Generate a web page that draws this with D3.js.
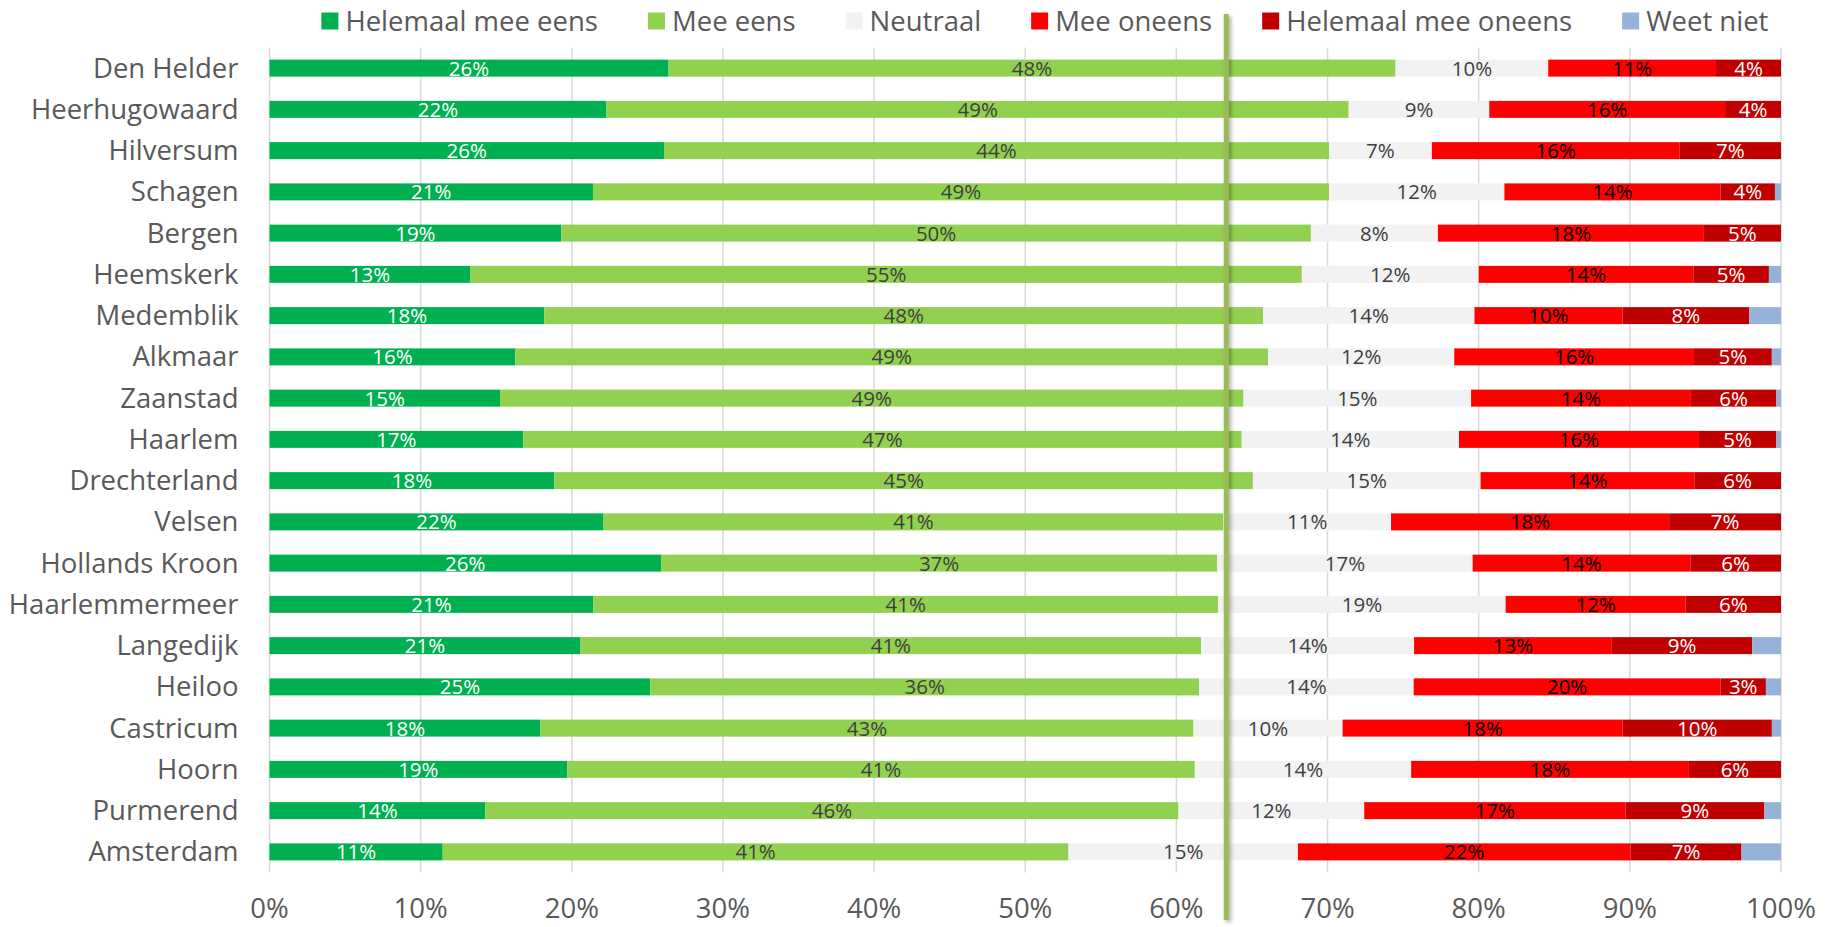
<!DOCTYPE html>
<html>
<head>
    <meta charset="utf-8">
    <title>Stelling per gemeente</title>
    <script src="https://cdn.jsdelivr.net/npm/d3@7/dist/d3.min.js"></script>
    <style>
        body { margin: 0; background: white; }
        text { font-family: "Open Sans", Lato, sans-serif; }
    </style>
</head>
<body>
    <svg width="1837" height="927"></svg>
    <script>
        // gemeenten, van boven naar beneden
        const categories = ["Den Helder", "Heerhugowaard", "Hilversum", "Schagen", "Bergen", "Heemskerk",
            "Medemblik", "Alkmaar", "Zaanstad", "Haarlem", "Drechterland", "Velsen", "Hollands Kroon",
            "Haarlemmermeer", "Langedijk", "Heiloo", "Castricum", "Hoorn", "Purmerend", "Amsterdam"];

        const series = ["Helemaal mee eens", "Mee eens", "Neutraal", "Mee oneens", "Helemaal mee oneens", "Weet niet"];
        const colors = ["#00B050", "#92D050", "#F2F2F2", "#FF0000", "#C00000", "#95B3D7"];
        const labelColors = ["#ffffff", "#404040", "#404040", "#000000", "#ffffff", null];

        const helemaalMeeEens   = [26.4, 22.3, 26.1, 21.4, 19.3, 13.3, 18.2, 16.1, 15.1, 16.7, 18.4, 22.1, 25.9, 21.4, 20.6, 25.2, 17.8, 19.4, 14.3, 11.4];
        const meeEens           = [48.1, 49.1, 44.0, 48.7, 49.6, 55.0, 47.6, 49.3, 48.7, 47.3, 45.1, 41.0, 36.8, 41.3, 41.1, 36.3, 42.9, 40.9, 45.9, 41.2];
        const neutraal          = [10.1, 9.3, 6.8, 11.6, 8.4, 11.7, 14.0, 12.2, 14.9, 14.3, 14.7, 11.1, 16.9, 19.0, 14.1, 14.2, 9.8, 14.1, 12.3, 15.1];
        const meeOneens         = [11.1, 15.6, 16.4, 14.3, 17.6, 14.2, 9.8, 15.7, 14.4, 15.8, 13.8, 18.4, 14.4, 11.9, 13.1, 20.3, 18.4, 18.1, 17.3, 21.9];
        const helemaalMeeOneens = [4.3, 3.7, 6.7, 3.6, 5.1, 5.0, 8.4, 5.1, 5.6, 5.1, 5.6, 7.4, 6.0, 6.3, 9.3, 3.0, 9.8, 6.0, 9.2, 7.3];
        const weetNiet          = [0, 0, 0, 0.4, 0, 0.8, 2.1, 0.6, 0.3, 0.3, 0, 0, 0, 0, 1.9, 1.0, 0.6, 0, 1.1, 2.6];

        const xTicks = [0, 0.1, 0.2, 0.3, 0.4, 0.5, 0.6, 0.7, 0.8, 0.9, 1];
        const gemiddelde = 0.633; // verticale lijn

        const allValues = [helemaalMeeEens, meeEens, neutraal, meeOneens, helemaalMeeOneens, weetNiet];
        const rows = categories.map((c, i) => {
            const r = { gemeente: c };
            series.forEach((s, j) => r[s] = allValues[j][i]);
            return r;
        });

        const svg = d3.select('svg');
        const margin = { left: 269.5, right: 56, top: 47.5, bottom: 54.5 };
        const width = 1837, height = 927;
        const fontSize = 27.5;

        const x = d3.scaleLinear()
            .domain([0, 1])
            .range([margin.left, width - margin.right]);

        const y = d3.scaleBand()
            .domain(categories)
            .range([margin.top, height - margin.bottom])
            .paddingInner(0.588)
            .paddingOuter(0.294);

        const stacked = d3.stack()
            .keys(series)
            .offset(d3.stackOffsetExpand)(rows);

        // rasterlijnen
        svg.append('g')
            .selectAll('line')
            .data(xTicks)
            .join('line')
                .attr('x1', d => x(d))
                .attr('x2', d => x(d))
                .attr('y1', margin.top)
                .attr('y2', height - margin.bottom)
                .attr('stroke', '#D9D9D9')
                .attr('stroke-width', 1.5);

        // balken
        const layers = svg.append('g')
            .selectAll('g')
            .data(stacked)
            .join('g')
                .attr('fill', (d, i) => colors[i]);

        layers.selectAll('rect')
            .data(d => d)
            .join('rect')
                .attr('x', d => x(d[0]))
                .attr('width', d => x(d[1]) - x(d[0]))
                .attr('y', d => y(d.data.gemeente))
                .attr('height', y.bandwidth());

        // waarde labels
        const labelG = svg.append('g')
            .attr('font-size', 20.5)
            .attr('text-anchor', 'middle');

        stacked.forEach((layer, i) => {
            if (!labelColors[i]) return;
            labelG.append('g')
                .selectAll('text')
                .data(layer)
                .join('text')
                    .attr('x', d => x((d[0] + d[1]) / 2))
                    .attr('y', d => y(d.data.gemeente) + y.bandwidth() / 2 + 7.5)
                    .attr('fill', labelColors[i])
                    .text(d => Math.round(d.data[layer.key]) + '%');
        });

        // y-as labels
        svg.append('g')
            .attr('font-size', fontSize)
            .attr('fill', '#595959')
            .attr('text-anchor', 'end')
            .selectAll('text')
            .data(categories)
            .join('text')
                .attr('x', margin.left - 31)
                .attr('y', d => y(d) + y.bandwidth() / 2 + 9.5)
                .text(d => d);

        // x-as labels
        svg.append('g')
            .attr('font-size', fontSize)
            .attr('fill', '#595959')
            .attr('text-anchor', 'middle')
            .selectAll('text')
            .data(xTicks)
            .join('text')
                .attr('x', d => x(d))
                .attr('y', 918)
                .text(d3.format('.0%'));

        // legenda
        const legend = svg.append('g')
            .attr('font-size', fontSize)
            .attr('fill', '#595959');

        let lx = 0;
        const items = legend.selectAll('g')
            .data(series)
            .join('g');
        items.append('rect')
            .attr('width', 17)
            .attr('height', 17)
            .attr('y', -8.5)
            .attr('fill', (d, i) => colors[i]);
        items.append('text')
            .attr('x', 24)
            .attr('y', 9.5)
            .text(d => d);
        items.each(function () {
            const w = this.getBBox().width;
            d3.select(this).attr('transform', `translate(${lx},0)`);
            lx += w + 50;
        });
        const legendWidth = lx - 50;
        legend.attr('transform', `translate(${1045 - legendWidth / 2},21)`);

        // verticale lijn met schaduw
        const defs = svg.append('defs');
        defs.append('filter')
            .attr('id', 'schaduw')
            .attr('filterUnits', 'userSpaceOnUse')
            .attr('x', 0).attr('y', 0)
            .attr('width', width).attr('height', height)
            .append('feDropShadow')
                .attr('dx', 2).attr('dy', 2)
                .attr('stdDeviation', 2)
                .attr('flood-opacity', 0.35);

        svg.append('rect')
            .attr('x', x(gemiddelde) - 2.5)
            .attr('width', 5)
            .attr('y', 14)
            .attr('height', 906)
            .attr('fill', '#9BBB59')
            .attr('filter', 'url(#schaduw)');
    </script>
</body>
</html>
